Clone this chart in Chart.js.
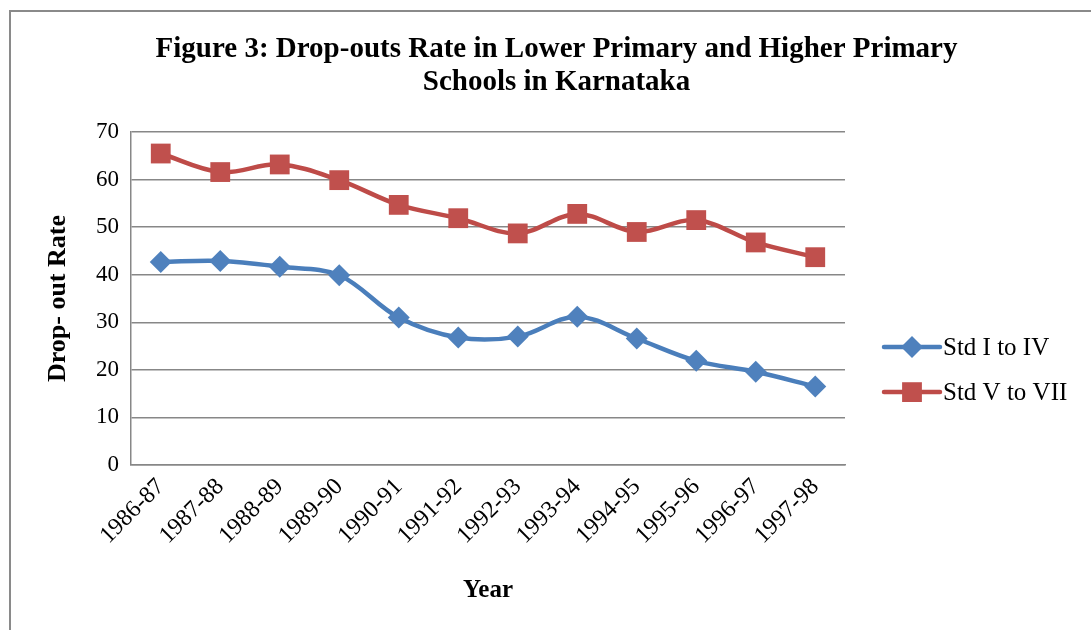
<!DOCTYPE html>
<html>
<head>
<meta charset="utf-8">
<script src="https://cdn.jsdelivr.net/npm/chart.js@4/dist/chart.umd.min.js"></script>
<style>
  html, body { margin: 0; padding: 0; background: #fff; overflow: hidden; }
  #wrap { position: relative; width: 1091px; height: 630px; }
  #frame { position: absolute; left: 9px; top: 10px; width: 1200px; height: 700px;
           border-left: 2px solid #8a8a8a; border-top: 2px solid #8a8a8a; box-sizing: border-box; }
  canvas { position: absolute; left: 0; top: 0; }
</style>
</head>
<body>
<div id="wrap">
  <div id="frame"></div>
  <canvas id="c" width="1091" height="630"></canvas>
</div>
<script>
// School years on the horizontal axis
const years = ['1986-87', '1987-88', '1988-89', '1989-90', '1990-91', '1991-92',
               '1992-93', '1993-94', '1994-95', '1995-96', '1996-97', '1997-98'];

// Drop-out rate (%), lower primary: Std I to IV
const stdItoIV = [42.7, 42.9, 41.7, 39.9, 31.0, 26.8, 27.0, 31.2, 26.6, 21.9, 19.6, 16.5];

// Drop-out rate (%), higher primary: Std V to VII
const stdVtoVII = [65.5, 61.6, 63.2, 59.9, 54.7, 51.9, 48.7, 52.8, 49.0, 51.5, 46.8, 43.7];

// Value axis ticks
const yTicks = [0, 10, 20, 30, 40, 50, 60, 70];

const SERIF = "'Liberation Serif', 'Times New Roman', serif";
const GRID = '#878787';

// Legend drawn as a short line with the series marker in its middle
const lineLegend = {
  id: 'lineLegend',
  afterDraw(chart, args, opts) {
    const { ctx, chartArea } = chart;
    const x0 = chartArea.right + opts.offsetX;
    chart.data.datasets.forEach((ds, i) => {
      const y = chartArea.top + opts.firstRow + i * opts.rowGap;
      ctx.save();
      ctx.strokeStyle = ds.borderColor;
      ctx.lineWidth = ds.borderWidth;
      ctx.lineCap = 'round';
      ctx.beginPath();
      ctx.moveTo(x0, y);
      ctx.lineTo(x0 + opts.lineLength, y);
      ctx.stroke();
      ctx.fillStyle = ds.pointBackgroundColor;
      ctx.strokeStyle = ds.pointBorderColor;
      Chart.helpers.drawPoint(ctx, {
        pointStyle: ds.pointStyle, radius: ds.pointRadius, rotation: 0, borderWidth: 0
      }, x0 + opts.lineLength / 2, y);
      ctx.fillStyle = '#000';
      ctx.font = opts.font;
      ctx.textAlign = 'left';
      ctx.textBaseline = 'middle';
      ctx.fillText(ds.label, x0 + opts.lineLength + 3, y + 1);
      ctx.restore();
    });
  }
};

new Chart(document.getElementById('c'), {
  type: 'line',
  data: {
    labels: years,
    datasets: [
      {
        label: 'Std I to IV',
        data: stdItoIV,
        borderColor: '#4A7EBB',
        borderWidth: 4.5,
        pointStyle: 'rectRot',
        pointRadius: 11,
        pointHoverRadius: 11,
        pointBackgroundColor: '#4F81BD',
        pointBorderColor: '#4F81BD',
        pointBorderWidth: 0,
        tension: 0.35,
        fill: false
      },
      {
        label: 'Std V to VII',
        data: stdVtoVII,
        borderColor: '#BE4B48',
        borderWidth: 4.5,
        pointStyle: 'rect',
        pointRadius: 14,
        pointHoverRadius: 14,
        pointBackgroundColor: '#C0504D',
        pointBorderColor: '#C0504D',
        pointBorderWidth: 0,
        tension: 0.35,
        fill: false
      }
    ]
  },
  options: {
    responsive: false,
    animation: false,
    events: [],
    layout: { padding: { left: 22, right: 0, top: 0, bottom: 0 } },
    plugins: {
      legend: { display: false },
      tooltip: { enabled: false },
      title: {
        display: true,
        text: ['Figure 3: Drop-outs Rate in Lower Primary and Higher Primary', 'Schools in Karnataka'],
        color: '#000',
        font: { family: SERIF, size: 29, weight: 'bold', lineHeight: 1.14 },
        padding: { top: 33, bottom: 33 }
      },
      lineLegend: {
        offsetX: 39,
        lineLength: 56,
        firstRow: 215,
        rowGap: 45,
        font: '25px ' + SERIF
      }
    },
    scales: {
      x: {
        offset: true,
        grid: { display: false, drawTicks: false },
        border: { display: true, color: GRID, width: 1.5 },
        ticks: {
          color: '#000',
          font: { family: SERIF, size: 24 },
          minRotation: 45,
          maxRotation: 45,
          autoSkip: false,
          padding: 8
        },
        title: {
          display: true,
          text: 'Year',
          color: '#000',
          font: { family: SERIF, size: 25, weight: 'bold' },
          padding: { top: 0, bottom: 24 }
        },
        afterFit: s => { s.height = 165; }
      },
      y: {
        min: 0,
        max: 70,
        afterBuildTicks: s => { s.ticks = yTicks.map(v => ({ value: v })); },
        grid: { color: GRID, lineWidth: 1.5, drawTicks: false },
        border: { display: true, color: GRID, width: 1.5 },
        ticks: {
          color: '#000',
          font: { family: SERIF, size: 23 },
          padding: 12
        },
        title: {
          display: true,
          text: 'Drop- out Rate',
          color: '#000',
          font: { family: SERIF, size: 26, weight: 'bold' },
          padding: { top: 21, bottom: 0 }
        },
        afterFit: s => { s.width = 109; }
      },
      legendSpace: {
        position: 'right',
        display: true,
        grid: { display: false },
        border: { display: false },
        ticks: { display: false },
        afterFit: s => { s.width = 246; }
      }
    }
  },
  plugins: [lineLegend]
});
</script>
</body>
</html>
